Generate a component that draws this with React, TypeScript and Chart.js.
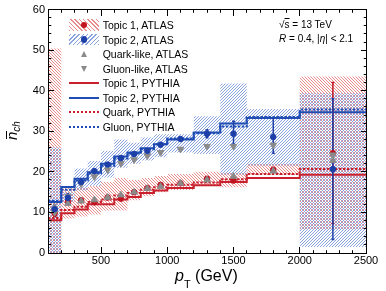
import React, { useEffect, useRef } from 'react';
import { Chart, registerables } from 'chart.js';

Chart.register(...registerables);

// ---------- data ----------
const binEdges = [100, 200, 300, 400, 500, 600, 700, 800, 900, 1000, 1200, 1400, 1600, 2000, 2500];
const binCenters = [150, 250, 350, 450, 550, 650, 750, 850, 950, 1100, 1300, 1500, 1800, 2250];

const topic1Atlas = [9.8, 12.6, 13.0, 12.5, 13.7, 13.4, 15.0, 16.0, 16.8, 17.2, 18.3, 17.9, 20.5, 24.6];
const topic1StatDown = [0.8, 0.5, 0.4, 0.3, 0.3, 0.3, 0.3, 0.3, 0.3, 0.3, 0.4, 0.5, 0.6, 17.3];
const topic1StatUp = [0.8, 0.5, 0.4, 0.3, 0.3, 0.3, 0.3, 0.3, 0.3, 0.3, 0.4, 0.5, 0.6, 17.4];
const topic1SystLow = [0, 8.5, 9.0, 9.5, 10.5, 10.5, 13.0, 14.0, 15.0, 15.5, 16.5, 16.2, 19.2, 5.7];
const topic1SystHigh = [50.4, 16.5, 16.0, 16.5, 17.5, 18.5, 18.0, 18.5, 19.0, 19.5, 20.0, 19.8, 22.0, 43.5];

const topic2Atlas = [10.8, 13.6, 17.5, 20.2, 21.8, 23.4, 24.4, 25.2, 26.7, 28.1, 29.4, 29.4, 28.6, 20.7];
const topic2StatDown = [1.0, 1.0, 0.5, 0.4, 0.4, 0.4, 0.4, 0.4, 0.4, 0.5, 1.0, 2.6, 4.0, 17.4];
const topic2StatUp = [1.0, 1.0, 0.5, 0.4, 0.4, 0.4, 0.4, 0.4, 0.4, 0.5, 1.0, 3.1, 4.6, 17.3];
const topic2SystLow = [0, 12.5, 15.4, 16.6, 18.6, 21.0, 22.0, 22.8, 23.6, 24.8, 24.4, 19.3, 21.5, 1.5];
const topic2SystHigh = [26.0, 15.0, 20.8, 22.7, 25.2, 28.0, 27.2, 28.5, 29.3, 29.3, 33.7, 41.8, 35.5, 39.4];

const quarkLikeAtlas = [11.3, 12.2, 12.8, 13.1, 13.7, 14.3, 15.0, 15.9, 16.4, 17.2, 18.0, 18.9, 20.2, 22.8];
const gluonLikeAtlas = [10.0, 14.0, 17.0, 18.8, 20.5, 22.1, 23.0, 24.0, 24.8, 25.6, 26.3, 26.3, 26.6, 24.2];

const topic1Pythia = [8.1, 9.8, 10.7, 12.0, 12.0, 13.2, 13.8, 14.8, 15.4, 16.0, 16.7, 17.5, 18.5, 19.3];
const quarkPythia = [8.6, 10.6, 11.4, 12.6, 13.2, 14.2, 14.8, 15.6, 16.2, 16.8, 17.4, 18.2, 19.5, 20.7];
const topic2Pythia = [12.6, 16.3, 18.3, 19.9, 22.0, 23.8, 24.8, 25.8, 26.8, 28.0, 29.7, 31.9, 33.3, 34.7];
const gluonPythia = [12.9, 15.6, 17.9, 19.6, 21.5, 23.3, 24.5, 25.6, 26.8, 28.2, 29.5, 31.2, 33.5, 35.4];

const xTickValues = [500, 1000, 1500, 2000, 2500];
const legendLabels = [
  'Topic 1, ATLAS',
  'Topic 2, ATLAS',
  'Quark-like, ATLAS',
  'Gluon-like, ATLAS',
  'Topic 1, PYTHIA',
  'Topic 2, PYTHIA',
  'Quark, PYTHIA',
  'Gluon, PYTHIA',
];

// ---------- styles ----------
const FONT = '"Liberation Sans", Arial, Helvetica, sans-serif';
const RED = '#c01420';
const BLUE = '#1d3fa8';
const RED_LINE = '#c8202c';
const BLUE_LINE = '#1f4db4';
const GRAY = '#8a8a8a';
const RED_HATCH = '#e98c8c';
const BLUE_HATCH = '#88a3e0';

function makeHatch(color: string, forward: boolean, size = 3) {
  const c = document.createElement('canvas');
  c.width = size;
  c.height = size;
  const g = c.getContext('2d') as CanvasRenderingContext2D;
  g.fillStyle = color;
  for (let i = 0; i < size; i++) {
    const x = forward ? size - 1 - i : i;
    g.fillRect(x, i, 1, 1);
  }
  return g.createPattern(c, 'repeat');
}

const stepData = (vals: number[]) => [
  ...vals.map((v, i) => ({ x: binEdges[i], y: v })),
  { x: binEdges[binEdges.length - 1], y: vals[vals.length - 1] },
];

const errData = (vals: number[], down: number[], up: number[]) => {
  const out: any[] = [];
  vals.forEach((v, i) => {
    out.push({ x: binCenters[i], y: v - down[i] });
    out.push({ x: binCenters[i], y: v + up[i] });
    out.push({ x: binCenters[i], y: null });
  });
  return out;
};

const pts = (vals: number[]) => vals.map((v, i) => ({ x: binCenters[i], y: v }));

const rootFrame = {
  id: 'rootFrame',
  afterDatasetsDraw(chart: any) {
    const { ctx, chartArea: a, scales } = chart;
    const xs = scales.x;
    const ys = scales.y;
    const crisp = (v: number) => Math.floor(v) + 0.5;
    const L = crisp(a.left), R = crisp(a.right), T = crisp(a.top), B = crisp(a.bottom);
    ctx.save();
    ctx.strokeStyle = '#000';
    ctx.lineWidth = 1;
    ctx.beginPath();
    for (let v = xs.min + 100; v < xs.max; v += 100) {
      const px = crisp(xs.getPixelForValue(v));
      const len = v % 500 === 0 ? 6.5 : 3.3;
      ctx.moveTo(px, B);
      ctx.lineTo(px, B - len);
      ctx.moveTo(px, T);
      ctx.lineTo(px, T + len);
    }
    for (let v = ys.min + 2; v < ys.max; v += 2) {
      const py = crisp(ys.getPixelForValue(v));
      const len = v % 10 === 0 ? 5.5 : 2.8;
      ctx.moveTo(L, py);
      ctx.lineTo(L + len, py);
      ctx.moveTo(R, py);
      ctx.lineTo(R - len, py);
    }
    ctx.stroke();
    ctx.strokeRect(L, T, R - L, B - T);
    ctx.restore();
  },
};

export default function App() {
  const ref = useRef<HTMLCanvasElement>(null);

  useEffect(() => {
    const canvas = ref.current;
    if (!canvas) return;
    const redHatch = makeHatch(RED_HATCH, false);
    const blueHatch = makeHatch(BLUE_HATCH, true);

    const band = (low: number[], high: number[], pattern: any, order: number) => [
      {
        data: stepData(low),
        stepped: true,
        borderColor: 'transparent',
        borderWidth: 0,
        pointRadius: 0,
        fill: false,
        order,
      },
      {
        data: stepData(high),
        stepped: true,
        borderColor: 'transparent',
        borderWidth: 0,
        pointRadius: 0,
        backgroundColor: pattern,
        fill: '-1',
        order,
      },
    ];

    const stepLine = (vals: number[], color: string, dash: number[], order: number) => ({
      data: stepData(vals),
      stepped: true,
      borderColor: color,
      borderWidth: 2,
      borderDash: dash,
      pointRadius: 0,
      fill: false,
      order,
    });

    const errLine = (vals: number[], down: number[], up: number[], color: string) => ({
      data: errData(vals, down, up),
      borderColor: color,
      borderWidth: 1.5,
      pointRadius: 1.5,
      pointStyle: 'line',
      pointBorderColor: color,
      pointBorderWidth: 1.5,
      spanGaps: false,
      fill: false,
      order: 3,
    });

    const markers = (vals: number[], color: string, style: string, radius: number, rotation: number, order: number) => ({
      data: pts(vals),
      showLine: false,
      pointStyle: style,
      pointRadius: radius,
      pointRotation: rotation,
      pointBackgroundColor: color,
      pointBorderColor: color,
      pointBorderWidth: 1,
      order,
    });

    const datasets: any[] = [
      ...band(topic1SystLow, topic1SystHigh, redHatch, 6),
      ...band(topic2SystLow, topic2SystHigh, blueHatch, 5),
      stepLine(topic1Pythia, RED_LINE, [], 4),
      stepLine(topic2Pythia, BLUE_LINE, [], 4),
      stepLine(quarkPythia, RED_LINE, [2.5, 1.5], 4),
      stepLine(gluonPythia, BLUE_LINE, [2.5, 1.5], 4),
      errLine(topic2Atlas, topic2StatDown, topic2StatUp, BLUE),
      errLine(topic1Atlas, topic1StatDown, topic1StatUp, RED),
      markers(topic1Atlas, RED, 'circle', 2.8, 0, 2),
      markers(quarkLikeAtlas, GRAY, 'triangle', 3.8, 0, 1),
      markers(gluonLikeAtlas, GRAY, 'triangle', 3.8, 180, 1),
      markers(topic2Atlas, BLUE, 'circle', 2.8, 0, 0),
    ];

    const tickFont = { family: FONT, size: 11 };

    const chart = new Chart(canvas, {
      type: 'line',
      data: { datasets },
      options: {
        animation: false,
        responsive: false,
        devicePixelRatio: 1,
        events: [],
        layout: { padding: { left: 0, right: 20, top: 7, bottom: 0 } },
        plugins: { legend: { display: false }, tooltip: { enabled: false } },
        scales: {
          x: {
            type: 'linear',
            min: binEdges[0],
            max: binEdges[binEdges.length - 1],
            afterBuildTicks: (axis: any) => {
              axis.ticks = xTickValues.map((v) => ({ value: v }));
            },
            afterFit: (s: any) => {
              s.height = 38;
            },
            grid: { display: false, drawTicks: false },
            border: { display: false },
            ticks: {
              font: tickFont,
              color: '#000',
              padding: 1,
              autoSkip: false,
              maxRotation: 0,
              callback: (v: any) => String(v),
            },
          },
          y: {
            type: 'linear',
            min: 0,
            max: 60,
            afterFit: (s: any) => {
              s.width = 48;
            },
            grid: { display: false, drawTicks: false },
            border: { display: false },
            ticks: {
              stepSize: 10,
              font: tickFont,
              color: '#000',
              padding: 3,
              callback: (v: any) => String(v),
            },
          },
        },
      } as any,
      plugins: [rootFrame],
    });
    return () => chart.destroy();
  }, []);

  const rowY = (i: number) => 25 + i * 14.5;
  const symX = 69;
  const symW = 30;

  const symbol = (i: number) => {
    const cy = rowY(i);
    if (i === 0 || i === 1) {
      const grad =
        i === 0
          ? `repeating-linear-gradient(45deg, ${RED_HATCH} 0 1px, transparent 1px 3px)`
          : `repeating-linear-gradient(-45deg, ${BLUE_HATCH} 0 1px, transparent 1px 3px)`;
      const c = i === 0 ? RED : BLUE;
      return (
        <>
          <div style={{ position: 'absolute', left: symX, top: cy - 5.8, width: symW, height: 11.6, background: grad }} />
          <div
            style={{
              position: 'absolute',
              left: symX + symW / 2 - 3.4,
              top: cy - 3.4,
              width: 6.8,
              height: 6.8,
              borderRadius: '50%',
              background: c,
            }}
          />
        </>
      );
    }
    if (i === 2 || i === 3) {
      return (
        <div
          style={{
            position: 'absolute',
            left: symX + symW / 2 - 3.5,
            top: cy - 3,
            width: 0,
            height: 0,
            borderLeft: '3.5px solid transparent',
            borderRight: '3.5px solid transparent',
            ...(i === 2 ? { borderBottom: `6px solid ${GRAY}` } : { borderTop: `6px solid ${GRAY}` }),
          }}
        />
      );
    }
    const color = i === 4 || i === 6 ? RED_LINE : BLUE_LINE;
    const dotted = i >= 6;
    return (
      <div
        style={{
          position: 'absolute',
          left: symX,
          top: cy - 1,
          width: symW,
          height: 2,
          background: dotted
            ? `repeating-linear-gradient(90deg, ${color} 0 2.5px, transparent 2.5px 4px)`
            : color,
        }}
      />
    );
  };

  return (
    <div
      style={{
        position: 'fixed',
        left: 0,
        top: 0,
        width: 386,
        height: 291,
        background: '#fff',
        fontFamily: FONT,
        color: '#000',
        overflow: 'hidden',
      }}
    >
      <canvas ref={ref} width={386} height={291} style={{ position: 'absolute', left: 0, top: 0, width: 386, height: 291 }} />

      {legendLabels.map((label, i) => (
        <React.Fragment key={label}>
          {symbol(i)}
          <div
            style={{
              position: 'absolute',
              left: 102.7,
              top: rowY(i) - 7,
              height: 14,
              lineHeight: '14px',
              fontSize: 10.5,
              whiteSpace: 'nowrap',
            }}
          >
            {label}
          </div>
        </React.Fragment>
      ))}

      <div style={{ position: 'absolute', left: 279, top: 18.5, lineHeight: '12px', fontSize: 10, whiteSpace: 'nowrap' }}>
        √<span style={{ textDecoration: 'overline' }}>s</span> = 13 TeV
      </div>
      <div style={{ position: 'absolute', left: 279, top: 33, lineHeight: '12px', fontSize: 10, whiteSpace: 'nowrap' }}>
        <i>R</i> = 0.4, |<i>η</i>| &lt; 2.1
      </div>

      {/* x axis title */}
      <div style={{ position: 'absolute', left: 175, top: 268, fontSize: 16, lineHeight: '16px', whiteSpace: 'nowrap' }}>
        <i>p</i>
        <span style={{ fontSize: 11, position: 'relative', top: 7 }}>T</span> (GeV)
      </div>

      {/* y axis title */}
      <div
        style={{
          position: 'absolute',
          left: 4.3,
          top: 140,
          transform: 'rotate(-90deg)',
          transformOrigin: '0 0',
          fontSize: 15,
          lineHeight: '15px',
          whiteSpace: 'nowrap',
        }}
      >
        <span style={{ position: 'relative', fontStyle: 'italic' }}>
          n
          <span style={{ position: 'absolute', left: 1, right: -1, top: 2.6, height: 1.2, background: '#000' }} />
        </span>
        <span style={{ fontSize: 10, fontStyle: 'italic', position: 'relative', top: 3 }}>ch</span>
      </div>
    </div>
  );
}
